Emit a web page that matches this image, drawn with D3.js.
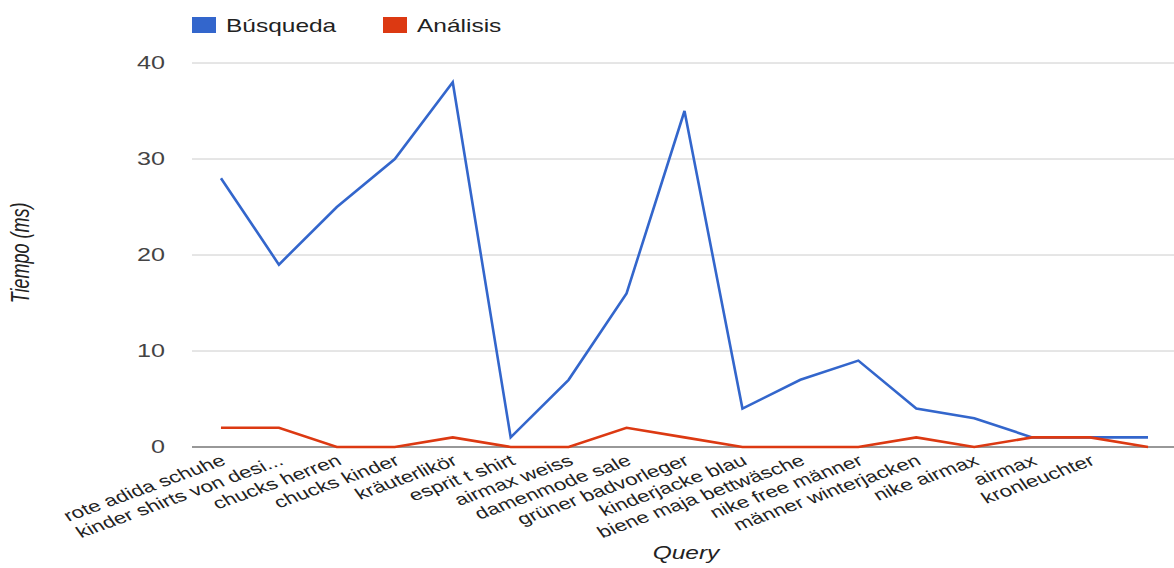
<!DOCTYPE html>
<html>
<head>
<meta charset="utf-8">
<script src="https://cdn.jsdelivr.net/npm/d3@7"></script>
<style>
  html, body { margin: 0; padding: 0; background: #fff; }
  svg { display: block; }
  text { font-family: "Liberation Sans", Arial, sans-serif; }
</style>
</head>
<body>
<svg id="chart" width="1174" height="568"></svg>
<script>
// Query labels (the final query is drawn without a label)
const queries = [
  "rote adida schuhe", "kinder shirts von desi...", "chucks herren", "chucks kinder",
  "kräuterlikör", "esprit t shirt", "airmax weiss", "damenmode sale",
  "grüner badvorleger", "kinderjacke blau", "biene maja bettwäsche", "nike free männer",
  "männer winterjacken", "nike airmax", "airmax", "kronleuchter", ""
];
// Search time per query (ms)
const busqueda = [28, 19, 25, 30, 38, 1, 7, 16, 35, 4, 7, 9, 4, 3, 1, 1, 1];
// Analysis time per query (ms)
const analisis = [2, 2, 0, 0, 1, 0, 0, 2, 1, 0, 0, 0, 1, 0, 1, 1, 0];
const yTicks = [0, 10, 20, 30, 40];
const seriesNames = ["Búsqueda", "Análisis"];
const seriesColors = ["#3366cc", "#dc3912"];

const svg = d3.select("#chart");
const W = 1174, H = 568;
const plot = { left: 192, right: 1177, top: 63, bottom: 447 };
const sx = 1.4; // horizontal text stretch

const x = d3.scalePoint()
  .domain(d3.range(queries.length))
  .range([plot.left, plot.right])
  .padding(0.5);
const y = d3.scaleLinear().domain([0, 40]).range([plot.bottom, plot.top]);

// Horizontal gridlines
svg.append("g").selectAll("line")
  .data(yTicks.filter(d => d !== 0))
  .join("line")
  .attr("x1", plot.left).attr("x2", W)
  .attr("y1", d => y(d)).attr("y2", d => y(d))
  .attr("stroke", "#cccccc").attr("stroke-width", 1);

// Y tick labels
svg.append("g").selectAll("text")
  .data(yTicks)
  .join("text")
  .attr("transform", d => `translate(165,${y(d)}) scale(${sx},1)`)
  .attr("text-anchor", "end")
  .attr("dy", "0.35em")
  .attr("font-size", 18)
  .attr("fill", "#444")
  .text(d => d);

// Baseline
svg.append("line")
  .attr("x1", plot.left).attr("x2", W)
  .attr("y1", y(0)).attr("y2", y(0))
  .attr("stroke", "#333").attr("stroke-width", 1.2);

// X tick labels, slanted
svg.append("g").selectAll("text")
  .data(queries.map((q, i) => ({ q, i })))
  .join("text")
  .attr("transform", d => `translate(${x(d.i) + 6},464) scale(${sx},1) rotate(-27)`)
  .attr("text-anchor", "end")
  .attr("font-size", 16)
  .attr("fill", "#222")
  .text(d => d.q);

// Lines
const line = d3.line()
  .x((d, i) => x(i))
  .y(d => y(d));

[busqueda, analisis].forEach((vals, k) => {
  svg.append("path")
    .datum(vals)
    .attr("d", line)
    .attr("fill", "none")
    .attr("stroke", seriesColors[k])
    .attr("stroke-width", 2.6)
    .attr("stroke-linejoin", "miter");
});

// Legend
const legendX = [192, 383];
seriesNames.forEach((name, k) => {
  const g = svg.append("g").attr("transform", `translate(${legendX[k]},17)`);
  g.append("rect")
    .attr("width", 24).attr("height", 16)
    .attr("fill", seriesColors[k]);
  g.append("text")
    .attr("transform", `translate(34,15) scale(${sx},1)`)
    .attr("font-size", 17.5)
    .attr("fill", "#222")
    .text(name);
});

// Axis titles
svg.append("text")
  .attr("transform", `translate(29,253) scale(${sx},1) rotate(-90)`)
  .attr("text-anchor", "middle")
  .attr("font-size", 18)
  .attr("font-style", "italic")
  .attr("fill", "#222")
  .text("Tiempo (ms)");

svg.append("text")
  .attr("transform", `translate(686,559) scale(${sx},1)`)
  .attr("text-anchor", "middle")
  .attr("font-size", 17.5)
  .attr("font-style", "italic")
  .attr("fill", "#222")
  .text("Query");
</script>
</body>
</html>
